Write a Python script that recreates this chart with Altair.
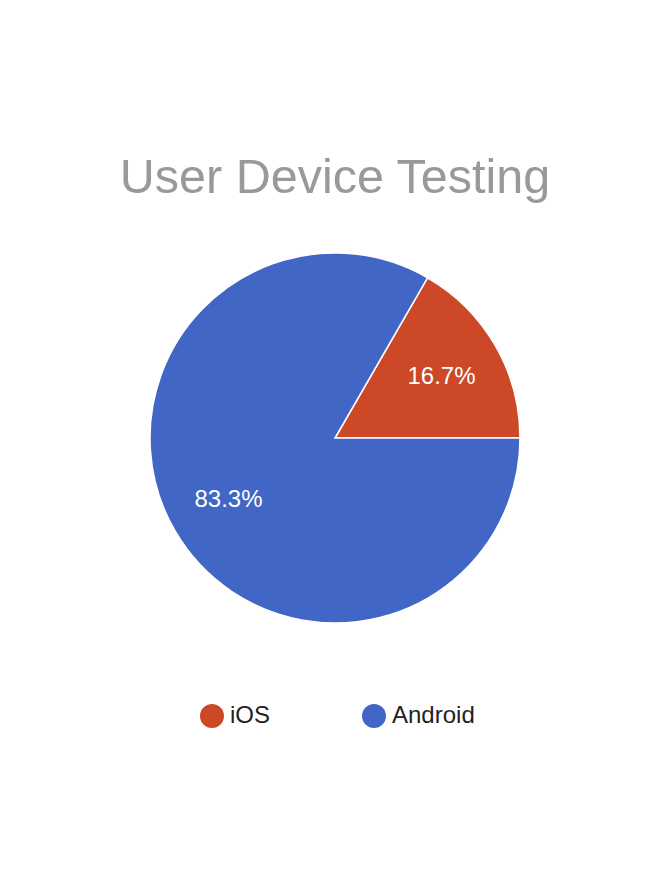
import math
import altair as alt
import pandas as pd

categories = ["iOS", "Android"]
counts = [1, 5]
labels = ["16.7%", "83.3%"]
colors = ["#cc4827", "#4166c5"]

df = pd.DataFrame({"device": categories, "count": counts, "label": labels, "idx": [0, 1]})

FONT = "Liberation Sans"

start = math.pi / 6
theta = alt.Theta("count:Q", stack=True, scale=alt.Scale(range=[start, start + 2 * math.pi]))
color = alt.Color(
    "device:N",
    scale=alt.Scale(domain=categories, range=colors),
    legend=alt.Legend(
        title=None,
        orient="none",
        legendX=192,
        legendY=696,
        direction="horizontal",
        symbolType="circle",
        symbolSize=576,
        symbolStrokeWidth=0,
        labelFont=FONT,
        labelFontSize=24,
        labelColor="#222222",
        labelOffset=6,
        columnPadding=91,
    ),
)

CX, CY = 327, 430

base = alt.Chart(df).encode(
    theta=theta,
    order=alt.Order("idx:Q"),
    x=alt.value(CX),
    y=alt.value(CY),
)

arcs = base.mark_arc(outerRadius=185, stroke="white", strokeWidth=1.5).encode(color=color)

texts = base.mark_text(radius=123, font=FONT, fontSize=24, color="white").encode(text="label:N")

title = alt.Chart(pd.DataFrame({"t": ["User Device Testing"]})).mark_text(
    font=FONT, fontSize=48.5, color="#999999", baseline="alphabetic"
).encode(text="t:N", x=alt.value(CX), y=alt.value(185))

chart = alt.layer(arcs, texts, title).properties(
    width=654, height=877, autosize=alt.AutoSizeParams(type="none"), padding=0
).configure_view(stroke=None)

chart.save("out.html", embed_options={"renderer": "svg", "actions": False})
